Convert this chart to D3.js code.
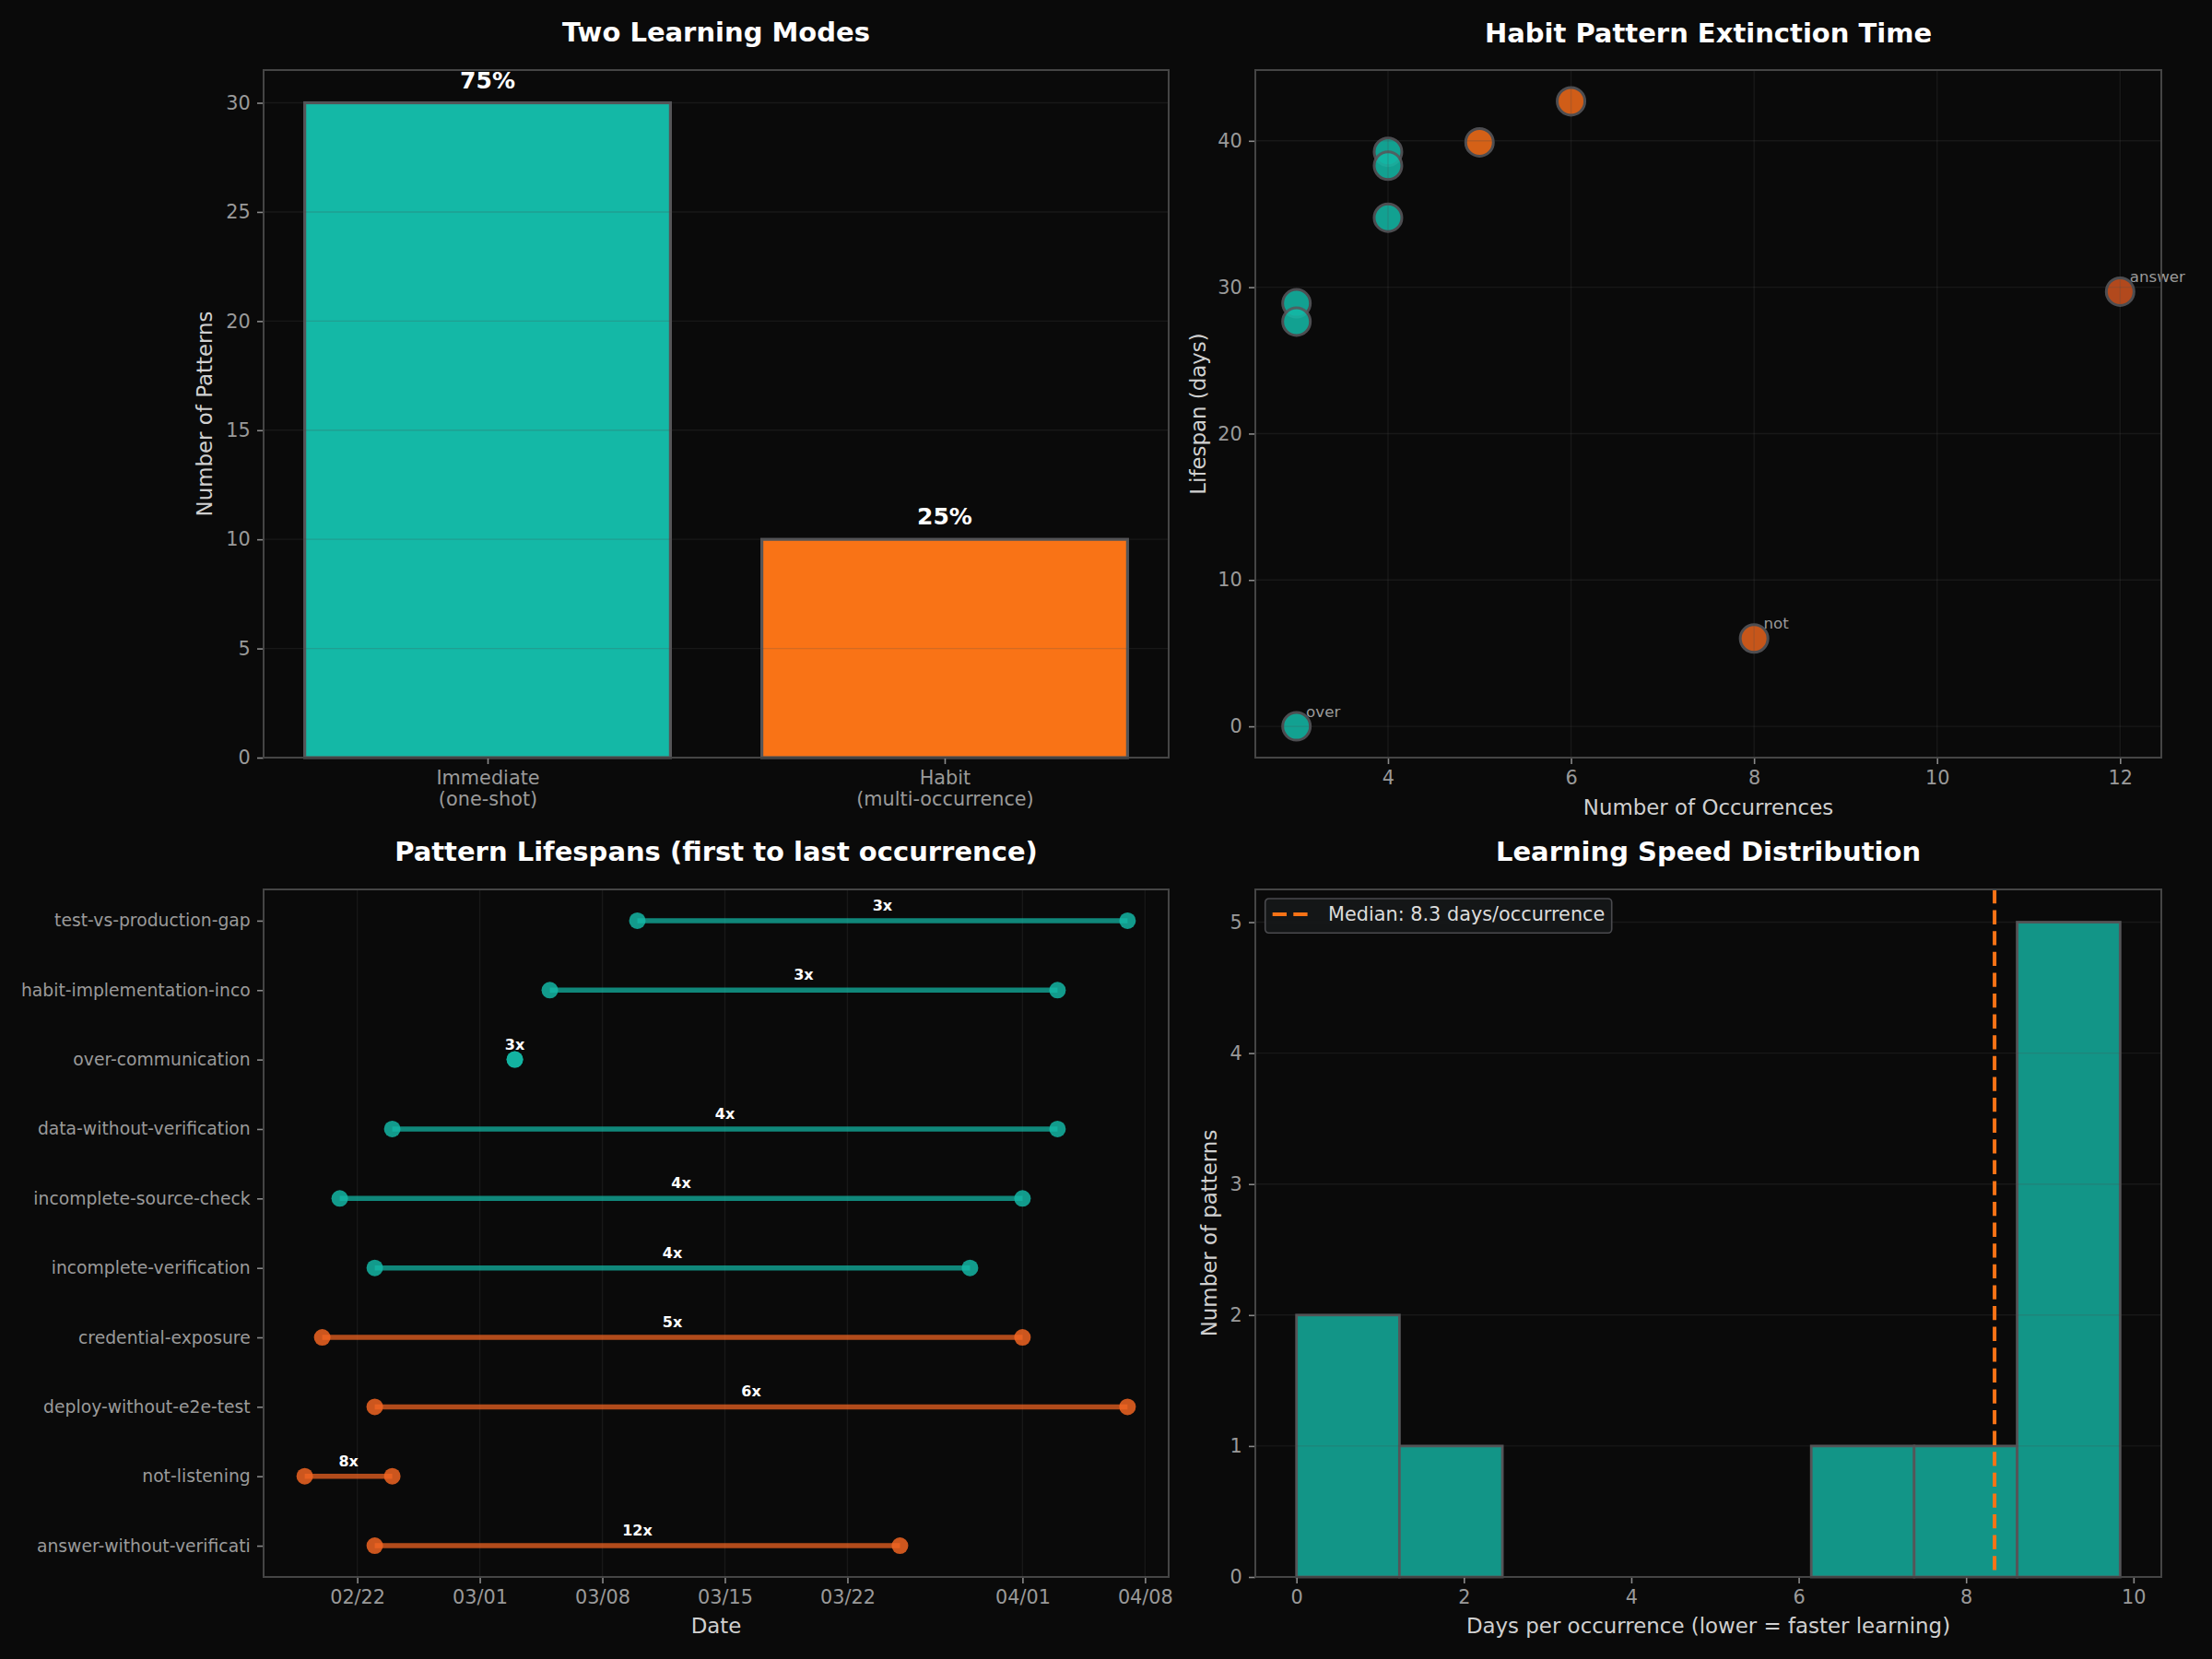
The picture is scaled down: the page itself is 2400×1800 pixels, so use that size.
<!DOCTYPE html>
<html><head><meta charset="utf-8">
<script src="https://cdn.jsdelivr.net/npm/d3@7"></script>
<style>html,body{margin:0;padding:0;background:#0a0a0a;} svg{display:block;}</style>
</head><body>
<script>
// ---------------- DATA ----------------
const modeCategories = ["Immediate\n(one-shot)", "Habit\n(multi-occurrence)"];
const modeCounts = [30, 10];
const modeTicks = [0, 5, 10, 15, 20, 25, 30];

const scatterOccurrences = [3, 3, 3, 4, 4, 4, 5, 6, 8, 12];
const scatterLifespanDays = [28.9, 27.65, 0, 39.25, 38.3, 34.75, 39.9, 42.7, 6.0, 29.7];
const scatterLabels = ["", "", "over", "", "", "", "", "", "not", "answer"];
const scatterXTicks = [4, 6, 8, 10, 12];
const scatterYTicks = [0, 10, 20, 30, 40];

const patternNames = ["test-vs-production-gap", "habit-implementation-inco", "over-communication",
  "data-without-verification", "incomplete-source-check", "incomplete-verification",
  "credential-exposure", "deploy-without-e2e-test", "not-listening", "answer-without-verificati"];
const patternFirst = ["2026-03-10", "2026-03-05", "2026-03-03", "2026-02-24", "2026-02-21",
  "2026-02-23", "2026-02-20", "2026-02-23", "2026-02-19", "2026-02-23"];
const patternLast = ["2026-04-07", "2026-04-03", "2026-03-03", "2026-04-03", "2026-04-01",
  "2026-03-29", "2026-04-01", "2026-04-07", "2026-02-24", "2026-03-25"];
const patternCounts = [3, 3, 3, 4, 4, 4, 5, 6, 8, 12];
const dateTicks = ["2026-02-22", "2026-03-01", "2026-03-08", "2026-03-15", "2026-03-22", "2026-04-01", "2026-04-08"];

const speedBinEdges = [0, 1.23, 2.46, 3.69, 4.92, 6.15, 7.38, 8.61, 9.84];
const speedBinCounts = [2, 1, 0, 0, 0, 1, 1, 5];
const speedMedian = 8.34;
const speedMedianLabel = "Median: 8.3 days/occurrence";
const speedXTicks = [0, 2, 4, 6, 8, 10];
const speedYTicks = [0, 1, 2, 3, 4, 5];

// ---------------- STYLE ----------------
const FONT = "DejaVu Sans, Verdana, sans-serif";
const BG = "#0a0a0a";
const TEAL = "#14b8a6", ORANGE = "#f97316", LS_ORANGE = "#f26522";
const TICK_FS = 20.8, LABEL_FS = 22.9, TITLE_FS = 29;
const intFmt = d3.format("d");

const svg = d3.select("body").append("svg").attr("width", 2400).attr("height", 1800)
  .style("background", BG).attr("font-family", FONT);
svg.append("rect").attr("width", 2400).attr("height", 1800).attr("fill", BG);

function padDomain(lo, hi) { const d = (hi - lo) * 0.05; return [lo - d, hi + d]; }

const panels = {
  p1: {l: 286, r: 1268, t: 76, b: 822},
  p2: {l: 1362, r: 2345, t: 76, b: 822},
  p3: {l: 286, r: 1268, t: 965, b: 1711},
  p4: {l: 1362, r: 2345, t: 965, b: 1711}
};

function styleAxis(g, fs) {
  g.select(".domain").remove();
  g.selectAll(".tick line").attr("stroke", "#8a8a8a").attr("stroke-width", 1.6);
  g.selectAll(".tick text").attr("fill", "#9a9a9a").attr("font-size", fs).attr("font-family", FONT);
}
function frame(p) {
  svg.append("rect").attr("x", p.l).attr("y", p.t).attr("width", p.r - p.l).attr("height", p.b - p.t)
    .attr("fill", "none").attr("stroke", "#454545").attr("stroke-width", 2);
}
function title(p, txt, y) {
  svg.append("text").attr("x", (p.l + p.r) / 2).attr("y", y).attr("text-anchor", "middle")
    .attr("font-size", TITLE_FS).attr("font-weight", "bold").attr("fill", "#ffffff").text(txt);
}
function ylabel(p, txt, x) {
  svg.append("text").attr("transform", `translate(${x},${(p.t + p.b) / 2}) rotate(-90)`)
    .attr("text-anchor", "middle").attr("dominant-baseline", "central")
    .attr("font-size", LABEL_FS).attr("fill", "#d0d0d0").text(txt);
}
function xlabel(p, txt, y) {
  svg.append("text").attr("x", (p.l + p.r) / 2).attr("y", y).attr("text-anchor", "middle")
    .attr("dominant-baseline", "central").attr("font-size", LABEL_FS).attr("fill", "#d0d0d0").text(txt);
}
function hgrid(p, y, ticks) {
  svg.append("g").selectAll("line").data(ticks).join("line")
    .attr("x1", p.l).attr("x2", p.r).attr("y1", d => y(d)).attr("y2", d => y(d))
    .attr("stroke", "#4d4d4d").attr("stroke-opacity", 0.22).attr("stroke-width", 1.4);
}
function vgrid(p, x, ticks) {
  svg.append("g").selectAll("line").data(ticks).join("line")
    .attr("y1", p.t).attr("y2", p.b).attr("x1", d => x(d)).attr("x2", d => x(d))
    .attr("stroke", "#4d4d4d").attr("stroke-opacity", 0.22).attr("stroke-width", 1.4);
}

// ---------------- PANEL 1: bars ----------------
(function () {
  const p = panels.p1;
  const idx = modeCounts.map((d, i) => i);
  const x = d3.scaleLinear().domain(padDomain(-0.4, idx.length - 1 + 0.4)).range([p.l, p.r]);
  const y = d3.scaleLinear().domain([0, d3.max(modeCounts) * 1.05]).range([p.b, p.t]);
  const colors = [TEAL, ORANGE];
  const total = d3.sum(modeCounts);
  svg.append("g").selectAll("rect").data(modeCounts).join("rect")
    .attr("x", (d, i) => x(i - 0.4)).attr("width", (d, i) => x(i + 0.4) - x(i - 0.4))
    .attr("y", d => y(d)).attr("height", d => y(0) - y(d))
    .attr("fill", (d, i) => colors[i]).attr("stroke", "#555558").attr("stroke-width", 3.2);
  hgrid(p, y, modeTicks);
  svg.append("g").selectAll("text").data(modeCounts).join("text")
    .attr("x", (d, i) => x(i)).attr("y", d => y(d) - 16).attr("text-anchor", "middle")
    .attr("font-size", 25).attr("font-weight", "bold").attr("fill", "#ffffff")
    .text(d => Math.round(d / total * 100) + "%");
  const gy = svg.append("g").attr("transform", `translate(${p.l},0)`)
    .call(d3.axisLeft(y).tickValues(modeTicks).tickFormat(intFmt).tickSize(7).tickPadding(7.3).tickSizeOuter(0));
  styleAxis(gy, TICK_FS);
  const gx = svg.append("g").attr("transform", `translate(0,${p.b})`)
    .call(d3.axisBottom(x).tickValues(idx).tickSize(7).tickPadding(7.3).tickSizeOuter(0).tickFormat(i => modeCategories[i]));
  styleAxis(gx, TICK_FS);
  gx.selectAll(".tick text").each(function (i) {
    const t = d3.select(this); const lines = modeCategories[i].split("\n");
    t.text(null).attr("dy", null);
    lines.forEach((ln, k) => t.append("tspan").attr("x", 0).attr("dy", k ? "1.12em" : "0.71em").text(ln));
  });
  frame(p);
  title(p, "Two Learning Modes", 45);
  ylabel(p, "Number of Patterns", 222);
})();

// ---------------- PANEL 2: scatter ----------------
(function () {
  const p = panels.p2;
  const x = d3.scaleLinear().domain(padDomain(d3.min(scatterOccurrences), d3.max(scatterOccurrences))).range([p.l, p.r]);
  const y = d3.scaleLinear().domain(padDomain(d3.min(scatterLifespanDays), d3.max(scatterLifespanDays))).range([p.b, p.t]);
  const orangeScale = d3.scaleLinear().domain([5, 12]).range(["#f46e1a", "#cb5320"]);
  const color = o => o <= 4 ? TEAL : orangeScale(o);
  svg.append("g").selectAll("circle").data(scatterOccurrences).join("circle")
    .attr("cx", d => x(d)).attr("cy", (d, i) => y(scatterLifespanDays[i])).attr("r", 15)
    .attr("fill", d => color(d)).attr("stroke", "#58585c").attr("stroke-width", 3)
    .attr("opacity", 0.87);
  vgrid(p, x, scatterXTicks);
  hgrid(p, y, scatterYTicks);
  svg.append("g").selectAll("text").data(scatterLabels).join("text")
    .attr("x", (d, i) => x(scatterOccurrences[i]) + 10.4)
    .attr("y", (d, i) => y(scatterLifespanDays[i]) - 10.4)
    .attr("font-size", 16.7).attr("fill", "#9a9a9a").text(d => d);
  const gy = svg.append("g").attr("transform", `translate(${p.l},0)`)
    .call(d3.axisLeft(y).tickValues(scatterYTicks).tickFormat(intFmt).tickSize(7).tickPadding(7.3).tickSizeOuter(0));
  styleAxis(gy, TICK_FS);
  const gx = svg.append("g").attr("transform", `translate(0,${p.b})`)
    .call(d3.axisBottom(x).tickValues(scatterXTicks).tickFormat(intFmt).tickSize(7).tickPadding(7.3).tickSizeOuter(0));
  styleAxis(gx, TICK_FS);
  frame(p);
  title(p, "Habit Pattern Extinction Time", 46);
  xlabel(p, "Number of Occurrences", 876);
  ylabel(p, "Lifespan (days)", 1300);
})();

// ---------------- PANEL 3: lifespans ----------------
(function () {
  const p = panels.p3;
  const parse = d3.utcParse("%Y-%m-%d");
  const first = patternFirst.map(parse), last = patternLast.map(parse);
  const tMin = d3.min(first), tMax = d3.max(last);
  const span = (tMax - tMin) * 0.05;
  const x = d3.scaleUtc().domain([new Date(+tMin - span), new Date(+tMax + span)]).range([p.l, p.r]);
  const y = d3.scaleLinear().domain(padDomain(0, patternNames.length - 1)).range([p.t, p.b]);
  const ticks = dateTicks.map(parse);
  vgrid(p, x, ticks);
  const color = c => c <= 4 ? TEAL : LS_ORANGE;
  const rows = patternNames.map((n, i) => ({n, i, a: first[i], b: last[i], c: patternCounts[i]}));
  svg.append("g").selectAll("line").data(rows).join("line")
    .attr("x1", d => x(d.a)).attr("x2", d => x(d.b)).attr("y1", d => y(d.i)).attr("y2", d => y(d.i))
    .attr("stroke", d => color(d.c)).attr("stroke-opacity", 0.72).attr("stroke-width", 5.5);
  const g = svg.append("g");
  g.selectAll("circle.s").data(rows).join("circle").attr("class", "s")
    .attr("cx", d => x(d.a)).attr("cy", d => y(d.i)).attr("r", 9)
    .attr("fill", d => color(d.c)).attr("fill-opacity", 0.84);
  g.selectAll("circle.e").data(rows).join("circle").attr("class", "e")
    .attr("cx", d => x(d.b)).attr("cy", d => y(d.i)).attr("r", 9)
    .attr("fill", d => color(d.c)).attr("fill-opacity", 0.84);
  svg.append("g").selectAll("text").data(rows).join("text")
    .attr("x", d => (x(d.a) + x(d.b)) / 2).attr("y", d => y(d.i) - 11).attr("text-anchor", "middle")
    .attr("font-size", 16).attr("font-weight", "bold").attr("fill", "#ffffff").text(d => d.c + "x");
  const gy = svg.append("g").attr("transform", `translate(${p.l},0)`)
    .call(d3.axisLeft(y).tickValues(d3.range(patternNames.length)).tickFormat(i => patternNames[i])
      .tickSize(7).tickPadding(7.3).tickSizeOuter(0));
  styleAxis(gy, 18.75);
  const gx = svg.append("g").attr("transform", `translate(0,${p.b})`)
    .call(d3.axisBottom(x).tickValues(ticks).tickFormat(d3.utcFormat("%m/%d")).tickSize(7).tickPadding(7.3).tickSizeOuter(0));
  styleAxis(gx, TICK_FS);
  frame(p);
  title(p, "Pattern Lifespans (first to last occurrence)", 934);
  xlabel(p, "Date", 1764);
})();

// ---------------- PANEL 4: histogram ----------------
(function () {
  const p = panels.p4;
  const x = d3.scaleLinear().domain(padDomain(speedBinEdges[0], speedBinEdges[speedBinEdges.length - 1])).range([p.l, p.r]);
  const y = d3.scaleLinear().domain([0, d3.max(speedBinCounts) * 1.05]).range([p.b, p.t]);
  const bins = speedBinCounts.map((c, i) => ({c, x0: speedBinEdges[i], x1: speedBinEdges[i + 1]}));
  svg.append("g").selectAll("rect").data(bins).join("rect")
    .attr("x", d => x(d.x0)).attr("width", d => x(d.x1) - x(d.x0))
    .attr("y", d => y(d.c)).attr("height", d => y(0) - y(d.c))
    .attr("fill", TEAL).attr("fill-opacity", 0.8).attr("stroke", "#555558").attr("stroke-width", 2.8);
  hgrid(p, y, speedYTicks);
  svg.append("line").attr("x1", x(speedMedian)).attr("x2", x(speedMedian)).attr("y1", p.t).attr("y2", p.b)
    .attr("stroke", ORANGE).attr("stroke-width", 4).attr("stroke-dasharray", "15.3,7.3");
  const gy = svg.append("g").attr("transform", `translate(${p.l},0)`)
    .call(d3.axisLeft(y).tickValues(speedYTicks).tickFormat(intFmt).tickSize(7).tickPadding(7.3).tickSizeOuter(0));
  styleAxis(gy, TICK_FS);
  const gx = svg.append("g").attr("transform", `translate(0,${p.b})`)
    .call(d3.axisBottom(x).tickValues(speedXTicks).tickFormat(intFmt).tickSize(7).tickPadding(7.3).tickSizeOuter(0));
  styleAxis(gx, TICK_FS);
  frame(p);
  // legend
  const lg = svg.append("g").attr("transform", `translate(${p.l + 10.7},${p.t + 10})`);
  lg.append("rect").attr("width", 376).attr("height", 37.3).attr("rx", 4)
    .attr("fill", "#161819").attr("fill-opacity", 0.92).attr("stroke", "#4a4a4e").attr("stroke-width", 1.6);
  lg.append("line").attr("x1", 8).attr("x2", 46).attr("y1", 17).attr("y2", 17)
    .attr("stroke", ORANGE).attr("stroke-width", 4).attr("stroke-dasharray", "15.3,7.3");
  lg.append("text").attr("x", 68.3).attr("y", 24.3).attr("font-size", TICK_FS).attr("fill", "#dcdcdc").text(speedMedianLabel);
  title(p, "Learning Speed Distribution", 934);
  xlabel(p, "Days per occurrence (lower = faster learning)", 1764);
  ylabel(p, "Number of patterns", 1312);
})();
</script>
</body></html>
